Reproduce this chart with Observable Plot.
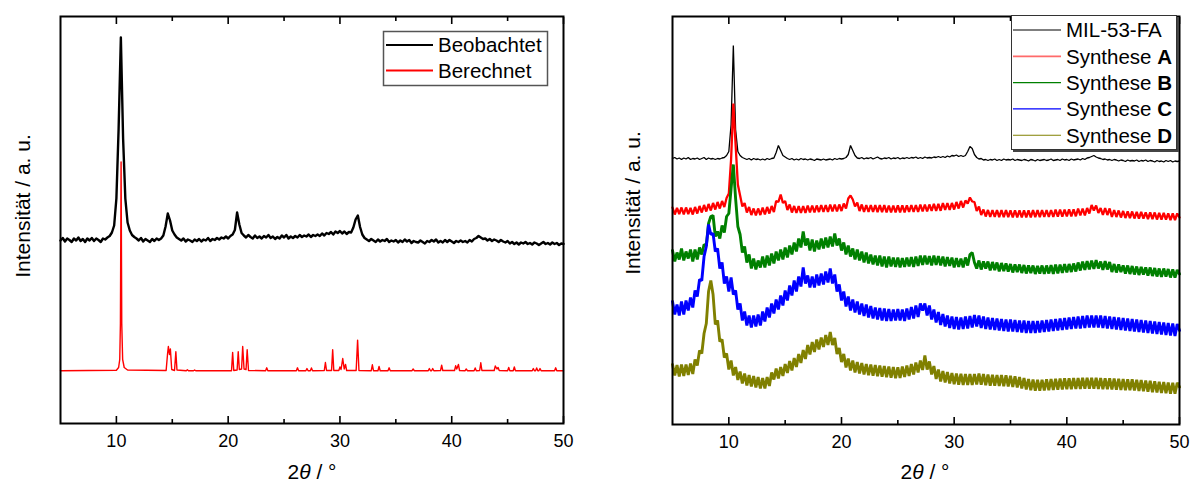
<!DOCTYPE html>
<html>
<head>
<meta charset="utf-8">
<script src="https://cdn.jsdelivr.net/npm/d3@7"></script>
<script src="https://cdn.jsdelivr.net/npm/@observablehq/plot@0.6"></script>
<style>
  html, body { margin: 0; padding: 0; background: #fff; }
  #root { position: relative; width: 1192px; height: 483px; overflow: hidden; font-family: "Liberation Sans", Arial, sans-serif; }
  #left, #right { position: absolute; top: 0; }
  #left { left: 0; }
  #right { left: 600px; }
  #overlay { position: absolute; left: 0; top: 0; pointer-events: none; }
</style>
</head>
<body>
<div id="root">
  <div id="left"></div>
  <div id="right"></div>
</div>
<script>
// 2θ grid (degrees), shared by the measured patterns
const twoTheta = [
5,5.2,5.4,5.6,5.8, 6,6.2,6.4,6.6,6.8, 7,7.2,7.4,7.6,7.8, 8,8.2,8.4,8.6,8.8, 9,9.2,9.4,9.6,9.8,
10,10.2,10.4,10.6,10.8, 11,11.2,11.4,11.6,11.8, 12,12.2,12.4,12.6,12.8, 13,13.2,13.4,13.6,13.8, 14,14.2,14.4,14.6,14.8,
15,15.2,15.4,15.6,15.8, 16,16.2,16.4,16.6,16.8, 17,17.2,17.4,17.6,17.8, 18,18.2,18.4,18.6,18.8, 19,19.2,19.4,19.6,19.8,
20,20.2,20.4,20.6,20.8, 21,21.2,21.4,21.6,21.8, 22,22.2,22.4,22.6,22.8, 23,23.2,23.4,23.6,23.8, 24,24.2,24.4,24.6,24.8,
25,25.2,25.4,25.6,25.8, 26,26.2,26.4,26.6,26.8, 27,27.2,27.4,27.6,27.8, 28,28.2,28.4,28.6,28.8, 29,29.2,29.4,29.6,29.8,
30,30.2,30.4,30.6,30.8, 31,31.2,31.4,31.6,31.8, 32,32.2,32.4,32.6,32.8, 33,33.2,33.4,33.6,33.8, 34,34.2,34.4,34.6,34.8,
35,35.2,35.4,35.6,35.8, 36,36.2,36.4,36.6,36.8, 37,37.2,37.4,37.6,37.8, 38,38.2,38.4,38.6,38.8, 39,39.2,39.4,39.6,39.8,
40,40.2,40.4,40.6,40.8, 41,41.2,41.4,41.6,41.8, 42,42.2,42.4,42.6,42.8, 43,43.2,43.4,43.6,43.8, 44,44.2,44.4,44.6,44.8,
45,45.2,45.4,45.6,45.8, 46,46.2,46.4,46.6,46.8, 47,47.2,47.4,47.6,47.8, 48,48.2,48.4,48.6,48.8, 49,49.2,49.4,49.6,49.8,
50];

// Left panel: observed pattern (a.u., offset included)
const beobachtet = [
1830,1855,1820,1850,1835, 1815,1850,1830,1860,1825, 1845,1815,1850,1830,1855, 1825,1850,1835,1815,1850, 1840,1860,1875,1910,1980,
2250,2950,3860,2850,2250, 2010,1930,1885,1865,1850, 1830,1855,1820,1845,1830, 1815,1845,1825,1850,1835, 1850,1880,1970,2100,2030,
1930,1890,1860,1845,1830, 1850,1820,1840,1830,1815, 1840,1825,1845,1820,1840, 1830,1855,1825,1845,1835, 1855,1840,1860,1850,1870,
1850,1875,1890,1935,2110, 1990,1905,1880,1860,1885, 1865,1850,1880,1855,1870, 1850,1875,1860,1885,1855, 1870,1845,1865,1850,1880,
1860,1885,1850,1870,1855, 1875,1860,1885,1865,1880, 1870,1890,1865,1885,1875, 1890,1875,1900,1880,1905, 1895,1915,1890,1920,1905,
1925,1900,1920,1895,1915, 1910,1960,2040,2080,1965, 1890,1855,1840,1825,1845, 1830,1815,1840,1820,1835, 1825,1845,1815,1830,1820,
1835,1810,1830,1815,1840, 1820,1835,1805,1825,1815, 1810,1830,1815,1800,1825, 1815,1835,1820,1840,1810, 1825,1810,1835,1815,1835,
1820,1805,1825,1815,1830, 1815,1825,1810,1835,1820, 1845,1855,1875,1860,1845, 1850,1830,1845,1825,1840, 1830,1815,1835,1820,1810,
1825,1800,1815,1795,1810, 1790,1810,1800,1815,1795, 1805,1790,1810,1800,1785, 1800,1815,1795,1805,1790, 1810,1795,1805,1785,1800,
1795];

// Left panel: calculated pattern (own 2θ sampling)
const berechnetAngle = [
5,10,10.2,10.3,10.36,10.42,10.48,10.56,10.7,11,
14.45,14.58,14.65,14.75,14.83,14.95,15.2,15.32,15.42,16.25,16.35,16.45,16.9,17,17.1,
20.3,20.4,20.5,20.8,20.9,21,21.2,21.3,21.42,21.6,21.7,21.82,
23.35,23.45,23.55,26.1,26.2,26.3,26.95,27.05,27.15,27.35,27.45,27.55,
28.6,28.7,28.8,29.25,29.35,29.45,29.9,30,30.1,30.25,30.38,30.5,30.6,
31.45,31.58,31.7,32.8,32.9,33,33.4,33.5,33.6,34.3,34.4,34.5,
36.45,36.55,36.65,37.9,38,38.1,38.2,38.3,38.4,39,39.1,39.2,
40.25,40.35,40.45,40.6,40.7,41.2,41.3,41.4,42,42.1,42.2,42.5,42.6,42.7,
43.8,43.9,44.05,44.15,44.25,45,45.1,45.2,45.5,45.6,45.7,
47.2,47.3,47.4,47.5,47.6,47.7,47.8,47.9,48,49.2,49.3,49.4,50];
const berechnetCounts = [
527,532,560,640,1000,2615,1000,640,560,535,
530,700,770,690,745,540,530,717,535,527,537,527,527,535,527,
528,710,530,535,717,540,545,770,545,540,737,530,
528,557,528,528,557,528,528,550,528,528,555,528,
530,610,530,530,737,530,530,565,540,650,545,590,530,
530,834,530,528,587,528,528,570,528,528,557,528,
528,545,528,528,550,528,528,550,528,530,584,530,
530,577,545,590,530,528,545,528,528,555,528,530,607,530,
530,575,545,560,530,528,560,528,528,565,528,
528,550,528,528,555,528,528,550,528,528,557,528,527];

// Right panel patterns (a.u., offsets included)
const mil53FA = [
2660,2670,2655,2665,2650, 2665,2655,2670,2650,2660, 2655,2665,2650,2660,2670, 2650,2665,2655,2660,2650, 2660,2655,2665,2670,2690,
2730,3000,3790,2950,2730, 2690,2670,2660,2650,2660, 2645,2660,2650,2655,2645, 2655,2645,2660,2650,2660, 2665,2720,2790,2740,2690,
2675,2660,2650,2660,2645, 2655,2645,2660,2650,2655, 2645,2655,2650,2640,2655, 2650,2645,2655,2645,2650, 2655,2645,2660,2650,2660,
2655,2660,2670,2700,2790, 2740,2690,2665,2660,2670, 2655,2665,2660,2670,2655, 2665,2675,2660,2655,2665, 2660,2670,2655,2665,2660,
2670,2655,2665,2660,2670, 2660,2670,2665,2675,2660, 2670,2660,2675,2665,2670, 2665,2675,2670,2680,2670, 2680,2670,2685,2675,2690,
2685,2695,2680,2690,2680, 2690,2730,2780,2760,2700, 2670,2655,2660,2645,2650, 2640,2650,2645,2655,2640, 2650,2640,2655,2645,2650,
2645,2655,2640,2650,2645, 2640,2650,2645,2635,2650, 2645,2635,2650,2640,2645, 2650,2640,2645,2655,2640, 2645,2650,2640,2655,2645,
2650,2640,2655,2645,2650, 2655,2645,2660,2650,2665, 2670,2680,2690,2675,2665, 2660,2650,2655,2645,2650, 2640,2650,2645,2635,2645,
2640,2630,2645,2635,2640, 2635,2645,2630,2640,2635, 2645,2630,2640,2635,2625, 2640,2630,2635,2625,2640, 2630,2640,2625,2635,2630,
2635];
const syntheseA = [
2170,2100,2165,2105,2170, 2100,2170,2105,2165,2100, 2175,2110,2185,2120,2195, 2130,2205,2140,2215,2150, 2225,2160,2235,2175,2265,
2310,2650,3210,2800,2400, 2290,2180,2215,2120,2175, 2095,2160,2090,2160,2095, 2170,2100,2175,2110,2185, 2125,2235,2225,2300,2215,
2235,2145,2200,2120,2185, 2115,2185,2115,2185,2115, 2190,2120,2190,2120,2190, 2125,2195,2125,2195,2125, 2200,2130,2200,2130,2200,
2135,2210,2160,2260,2290, 2250,2180,2220,2135,2200, 2125,2195,2125,2195,2125, 2193,2123,2193,2123,2193, 2120,2190,2120,2190,2120,
2192,2122,2192,2122,2192, 2125,2195,2125,2195,2125, 2200,2130,2200,2130,2200, 2137,2207,2137,2207,2137, 2215,2145,2215,2145,2215,
2150,2225,2160,2235,2170, 2240,2210,2270,2230,2225, 2135,2180,2095,2150,2080, 2145,2075,2145,2075,2145, 2073,2143,2073,2143,2073,
2142,2072,2142,2072,2142, 2072,2142,2072,2142,2072, 2143,2073,2143,2073,2143, 2075,2145,2075,2145,2075, 2148,2078,2148,2078,2148,
2082,2152,2082,2152,2082, 2160,2090,2160,2090,2165, 2110,2195,2140,2190,2115, 2165,2095,2165,2095,2160, 2075,2145,2075,2140,2070,
2135,2065,2130,2065,2130, 2060,2125,2060,2125,2060, 2120,2055,2120,2055,2120, 2050,2115,2050,2115,2050, 2110,2045,2110,2045,2110,
2070];
const syntheseB = [
1740,1630,1720,1650,1760, 1640,1730,1660,1750,1630, 1750,1650,1770,1700,1800, 1790,2010,2080,2090,1880, 1930,1860,1990,1920,2080,
2110,2360,2600,2260,1980, 1900,1720,1780,1620,1700, 1560,1660,1550,1640,1570, 1680,1570,1690,1590,1710, 1610,1730,1640,1750,1650,
1770,1670,1790,1700,1820, 1730,1860,1770,1930,1790, 1860,1740,1850,1730,1840, 1750,1860,1760,1870,1770, 1880,1780,1910,1790,1860,
1740,1820,1700,1790,1680, 1760,1650,1750,1640,1730, 1620,1720,1610,1700,1600, 1690,1590,1690,1580,1680, 1570,1680,1580,1670,1575,
1670,1570,1665,1575,1670, 1580,1675,1575,1680,1585, 1690,1595,1690,1600,1685, 1590,1690,1595,1685,1590, 1680,1580,1675,1585,1670,
1570,1665,1575,1660,1570, 1670,1590,1700,1720,1620, 1560,1640,1550,1630,1560, 1630,1540,1625,1545,1620, 1530,1615,1535,1610,1530,
1605,1520,1600,1525,1600, 1515,1595,1510,1590,1515, 1590,1505,1585,1510,1590, 1505,1590,1510,1595,1505, 1600,1510,1600,1515,1605,
1520,1605,1525,1610,1530, 1620,1540,1630,1545,1635, 1550,1640,1555,1645,1560, 1630,1545,1635,1550,1625, 1525,1605,1520,1600,1525,
1590,1510,1590,1505,1585, 1500,1580,1495,1575,1500, 1570,1490,1570,1485,1565, 1480,1560,1475,1560,1480, 1555,1470,1550,1470,1545,
1505];
const syntheseC = [
1230,1100,1200,1090,1230, 1100,1240,1140,1270,1170, 1340,1280,1450,1440,1680, 1780,2000,1900,1910,1730, 1760,1560,1620,1410,1480,
1330,1470,1300,1340,1150, 1210,1040,1130,990,1090, 970,1090,980,1100,990, 1130,1030,1170,1070,1210, 1110,1250,1150,1290,1190,
1340,1240,1390,1290,1440, 1330,1480,1380,1570,1410, 1490,1370,1480,1370,1500, 1390,1510,1400,1530,1420, 1560,1410,1500,1330,1400,
1240,1330,1180,1280,1140, 1250,1120,1230,1100,1210, 1085,1200,1070,1185,1060, 1170,1050,1165,1040,1160, 1035,1155,1035,1150,1040,
1155,1040,1150,1035,1160, 1050,1175,1060,1190,1075, 1210,1140,1210,1090,1190, 1050,1150,1020,1125,995, 1105,980,1090,965,1080,
955,1075,950,1070,955, 1080,960,1085,970,1095, 980,1090,965,1080,955, 1070,950,1065,945,1060, 940,1055,935,1050,930,
1050,930,1045,925,1040, 920,1040,915,1035,915, 1035,915,1035,920,1040, 925,1045,930,1050,935, 1055,940,1060,945,1065,
950,1070,955,1075,960, 1080,960,1085,965,1090, 970,1090,970,1090,970, 1090,965,1085,960,1080, 955,1075,950,1070,945,
1065,940,1060,935,1055, 930,1050,925,1045,920, 1040,915,1035,910,1030, 905,1025,900,1020,895, 1015,890,1010,885,1005,
940];
const syntheseD = [
600,490,595,480,600, 485,600,495,610,505, 650,590,740,710,910, 1010,1330,1440,1300,1000, 1040,830,850,670,710,
550,640,490,575,445, 530,410,510,390,495, 380,485,370,475,360, 465,360,475,385,520, 450,560,460,575,485,
605,515,635,540,665, 575,705,615,745,655, 795,700,825,725,850, 750,870,775,895,795, 925,795,865,705,765,
625,705,570,660,540, 640,520,625,510,615, 500,605,493,600,488, 595,483,590,477,585, 473,580,467,575,463,
572,465,580,475,590, 485,605,500,620,520, 640,545,690,550,630, 500,585,455,550,430, 535,420,525,410,515,
403,510,398,507,395, 505,395,505,395,505, 400,510,397,505,393, 500,389,498,387,495, 385,495,383,492,380,
487,375,483,370,475, 360,465,350,455,342, 450,338,447,337,448, 340,452,343,455,345, 457,348,459,350,461,
352,463,354,465,355, 465,356,467,358,468, 358,468,357,467,356, 465,354,463,352,461, 350,459,348,457,346,
455,344,453,342,451, 340,448,336,444,332, 440,328,436,324,432, 320,428,316,424,312, 420,309,418,307,417,
375];

const majorTicks = [10, 20, 30, 40, 50];
const minorTicks = [15, 25, 35, 45];
const leftNames = ["Beobachtet", "Berechnet"];
const rightNames = ["MIL-53-FA", "Synthese A", "Synthese B", "Synthese C", "Synthese D"];
const rightColors = ["#000000", "#ff0000", "#008000", "#0000ff", "#808000"];
const rightWidths = [1.3, 2.3, 2.9, 2.9, 2.9];

const toRows = (vals) => twoTheta.map((a, i) => ({a, c: vals[i]}));
const font = "Liberation Sans, Arial, sans-serif";

function axes() {
  return [
    Plot.axisX({anchor: "bottom", ticks: majorTicks, tickSize: -7, tickPadding: 18, strokeWidth: 1.6, label: null, fontSize: 18}),
    Plot.axisX({anchor: "bottom", ticks: minorTicks, tickSize: -4, strokeWidth: 1.6, tickFormat: () => "", label: null}),
    Plot.axisX({anchor: "top", ticks: majorTicks, tickSize: -7, strokeWidth: 1.6, tickFormat: () => "", label: null}),
    Plot.axisX({anchor: "top", ticks: minorTicks, tickSize: -4, strokeWidth: 1.6, tickFormat: () => "", label: null}),
    Plot.frame({stroke: "#000", strokeWidth: 2})
  ];
}

const calcRows = berechnetAngle.map((a, i) => ({a, c: berechnetCounts[i]}));

const left = Plot.plot({
  width: 600, height: 483,
  marginLeft: 60, marginRight: 37, marginTop: 16, marginBottom: 60,
  x: {domain: [5, 50]},
  y: {domain: [0, 4070], axis: null},
  style: {fontFamily: font, fontSize: "18px", color: "#000", background: "transparent"},
  marks: [
    Plot.line(toRows(beobachtet), {x: "a", y: "c", stroke: "#000", strokeWidth: 2.4}),
    Plot.line(calcRows, {x: "a", y: "c", stroke: "#ff0000", strokeWidth: 1.4}),
    ...axes()
  ]
});
document.getElementById("left").appendChild(left);

const rightSeries = [mil53FA, syntheseA, syntheseB, syntheseC, syntheseD];
const right = Plot.plot({
  width: 592, height: 483,
  marginLeft: 72, marginRight: 13, marginTop: 16, marginBottom: 59,
  x: {domain: [5, 50]},
  y: {domain: [0, 4080], axis: null},
  style: {fontFamily: font, fontSize: "18px", color: "#000", background: "transparent"},
  marks: [
    ...rightSeries.map((s, k) => Plot.line(toRows(s), {x: "a", y: "c", stroke: rightColors[k], strokeWidth: rightWidths[k], strokeLinejoin: "bevel"})),
    ...axes()
  ]
});
document.getElementById("right").appendChild(right);

// Overlay: axis titles and legends
const ov = d3.select("#root").append("svg").attr("id", "overlay")
  .attr("width", 1192).attr("height", 483)
  .style("font-family", font);

function xTitle(cx) {
  const t = ov.append("text").attr("x", cx).attr("y", 479).attr("text-anchor", "middle")
    .attr("font-size", 21).attr("fill", "#000");
  t.append("tspan").text("2");
  t.append("tspan").attr("font-style", "italic").text("θ");
  t.append("tspan").text(" / °");
}
function yTitle(cx, cy) {
  ov.append("text").attr("transform", `translate(${cx},${cy}) rotate(-90)`)
    .attr("text-anchor", "middle").attr("dominant-baseline", "central")
    .attr("font-size", 21).attr("fill", "#000").text("Intensität / a. u.");
}
xTitle(312); xTitle(925);
yTitle(22, 206); yTitle(632, 203);

// Left legend
ov.append("rect").attr("x", 383.5).attr("y", 31.5).attr("width", 164).attr("height", 54)
  .attr("fill", "#fff").attr("stroke", "#555").attr("stroke-width", 1.5);
leftNames.forEach((n, i) => {
  const y = 45 + i * 25.5;
  ov.append("line").attr("x1", 386).attr("x2", 433).attr("y1", y).attr("y2", y)
    .attr("stroke", i === 0 ? "#000" : "#ff0000").attr("stroke-width", 1.8);
  ov.append("text").attr("x", 438).attr("y", y + 7).attr("font-size", 20.5).attr("fill", "#000").text(n);
});

// Right legend
ov.append("rect").attr("x", 1013).attr("y", 17).attr("width", 166).attr("height", 135).attr("fill", "#444");
ov.append("rect").attr("x", 1011.5).attr("y", 15.5).attr("width", 165).attr("height", 134)
  .attr("fill", "#fff").attr("stroke", "#333").attr("stroke-width", 1);
rightNames.forEach((n, i) => {
  const y = 30 + i * 26.3;
  ov.append("line").attr("x1", 1013).attr("x2", 1061).attr("y1", y).attr("y2", y)
    .attr("stroke", i === 1 ? "#ff6a6a" : rightColors[i]).attr("stroke-width", i === 1 ? 1.8 : 1.1);
  const t = ov.append("text").attr("x", 1066).attr("y", y + 7.3).attr("font-size", 20.5).attr("fill", "#000");
  if (i === 0) t.text(n);
  else {
    const parts = n.split(" ");
    t.append("tspan").text(parts[0] + " ");
    t.append("tspan").attr("font-weight", "bold").text(parts[1]);
  }
});
</script>
</body>
</html>
